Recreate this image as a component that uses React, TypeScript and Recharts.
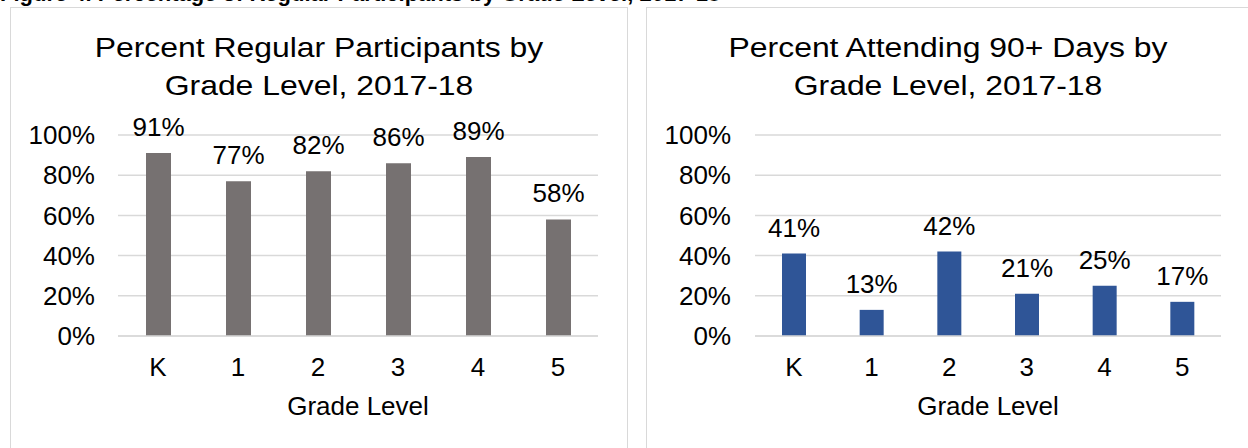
import React from "react";
import { BarChart, Bar, XAxis, YAxis, CartesianGrid, LabelList } from "recharts";

const grades = ["K", "1", "2", "3", "4", "5"];
const regularPct = [91, 77, 82, 86, 89, 58];
const days90Pct = [41, 13, 42, 21, 25, 17];
const pctTicks = [0, 20, 40, 60, 80, 100];

const FONT = '"Liberation Sans", Arial, Helvetica, sans-serif';
const GRID = "#d9d9d9";
const TEXT = "#000";

type Row = { grade: string; pct: number };
const toRows = (vals: number[]): Row[] => grades.map((grade, i) => ({ grade, pct: vals[i] }));

const pct = (v: any) => `${v}%`;

function GradeChart({
  left,
  width,
  rows,
  color,
  barSize,
  yWidth,
  yTickMargin,
  rightMargin,
}: {
  left: number;
  width: number;
  rows: Row[];
  color: string;
  barSize: number;
  yWidth: number;
  yTickMargin: number;
  rightMargin: number;
}) {
  return (
    <div style={{ position: "absolute", left, top: 0 }}>
      <BarChart
        width={width}
        height={448}
        data={rows}
        margin={{ top: 135, right: rightMargin, left: 0, bottom: 32 }}
        style={{ fontFamily: FONT }}
      >
        <CartesianGrid vertical={false} stroke={GRID} strokeWidth={1.5} />
        <XAxis
          dataKey="grade"
          interval={0}
          height={80}
          tickLine={false}
          axisLine={{ stroke: GRID, strokeWidth: 1.5 }}
          tickMargin={16}
          tick={{ fontSize: 26, fill: TEXT }}
          label={{ value: "Grade Level", position: "insideBottom", offset: 1, fontSize: 26, fill: TEXT }}
        />
        <YAxis
          domain={[0, 100]}
          ticks={pctTicks}
          interval={0}
          width={yWidth}
          tickLine={false}
          axisLine={false}
          tickMargin={yTickMargin}
          tickFormatter={pct}
          tick={{ fontSize: 26, fill: TEXT }}
        />
        <Bar dataKey="pct" fill={color} barSize={barSize} isAnimationActive={false}>
          <LabelList dataKey="pct" position="top" offset={17} formatter={pct} fontSize={26} fill={TEXT} />
        </Bar>
      </BarChart>
    </div>
  );
}

function Title({ center, lines }: { center: number; lines: string[] }) {
  return (
    <div
      style={{
        position: "absolute",
        left: center - 300,
        top: 29,
        width: 600,
        textAlign: "center",
        fontFamily: FONT,
        fontSize: 27.5,
        lineHeight: "37.7px",
        color: TEXT,
        transform: "scaleX(1.16)",
        transformOrigin: "center top",
        whiteSpace: "nowrap",
      }}
    >
      {lines.map((l) => (
        <div key={l}>{l}</div>
      ))}
    </div>
  );
}

export default function App() {
  return (
    <div
      style={{
        position: "absolute",
        left: 0,
        top: 0,
        width: 1248,
        height: 448,
        overflow: "hidden",
        background: "#fff",
      }}
    >
      {/* figure heading, mostly cropped off the top edge */}
      <div
        style={{
          position: "absolute",
          left: 0,
          top: -17,
          fontFamily: FONT,
          fontWeight: 700,
          fontSize: 22,
          lineHeight: "21px",
          color: TEXT,
          whiteSpace: "nowrap",
        }}
      >
        Figure 4. Percentage of Regular Participants by Grade Level, 2017-18
      </div>

      <div style={{ position: "absolute", left: 10, top: 7, width: 616, height: 460, border: `1.5px solid ${GRID}` }} />
      <div style={{ position: "absolute", left: 646, top: 7, width: 604, height: 460, border: `1.5px solid ${GRID}` }} />

      <Title center={318.5} lines={["Percent Regular Participants by", "Grade Level, 2017-18"]} />
      <Title center={948} lines={["Percent Attending 90+ Days by", "Grade Level, 2017-18"]} />

      <GradeChart
        left={0}
        width={640}
        rows={toRows(regularPct)}
        color="#767171"
        barSize={25}
        yWidth={118}
        yTickMargin={17}
        rightMargin={42}
      />
      <GradeChart
        left={640}
        width={608}
        rows={toRows(days90Pct)}
        color="#2F5597"
        barSize={24}
        yWidth={115}
        yTickMargin={18}
        rightMargin={27}
      />
    </div>
  );
}
